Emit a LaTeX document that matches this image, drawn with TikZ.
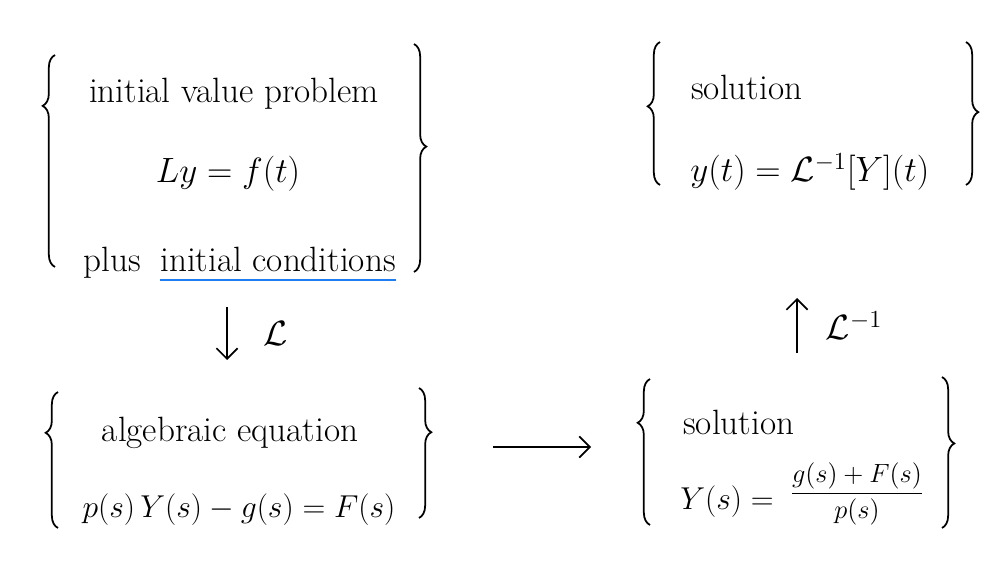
\documentclass[tikz,border=0pt]{standalone}
\usepackage{fix-cm}
\usepackage{amsmath,amssymb}
\usepackage{fontspec}
\usetikzlibrary{positioning,calc,arrows.meta,decorations.pathreplacing}
\definecolor{ulblue}{RGB}{30,125,240}
\tikzset{hand/.style={font=\fontsize{20}{24}\selectfont,inner sep=0pt}  }
\tikzset{handmid/.style={font=\fontsize{18}{22}\selectfont,inner sep=0pt}  }
\tikzset{handsmall/.style={font=\fontsize{15}{18}\selectfont,inner sep=0pt}  }
\tikzset{brc/.style={decorate,decoration={brace,amplitude=7pt,aspect=#1},line width=1pt}  }
\tikzset{>={Straight Barb[length=6pt,width=12pt]}}

\begin{document}
\begin{tikzpicture}[x=0.02cm,y=-0.02cm]
	\useasboundingbox (0,0) rectangle (988,564);
	% initial value problem
		\node[hand,anchor=base] (ivp) at (234,103) {initial value problem};
		\node[hand,anchor=base] (ode) at (228,183) {$Ly = f(t)$};
		\node[hand,anchor=base west] (plus) at (83,272) {plus};
		\node[hand,anchor=base west] (ic) at (160,272) {initial conditions};
	\draw[ulblue,line width=1pt] ($(ic.base west)+(0,8)$) -- ($(ic.base east)+(0,8)$);
		\coordinate (tl1) at (55,267);
		\coordinate (tl2) at (55,55);
		\coordinate (tr1) at (414,44);
		\coordinate (tr2) at (414,272);
	\draw[brc=0.76] (tl1)--(tl2);
	\draw[brc=0.45] (tr1)--(tr2);
	% Laplace transform
		\coordinate (d1) at (227,307);
		\coordinate (d2) at (227,360);
	\draw[->,line width=1pt] (d1) -- node[hand,right=20pt]{$\mathcal{L}$}(d2);
	% algebraic equation
		\node[hand,anchor=base] (alg) at (230,441) {algebraic equation};
		\node[handmid,anchor=base] (aeq) at (239,518) {$p(s)\,Y(s) - g(s) = F(s)$};
		\coordinate (bl1) at (58,528);
		\coordinate (bl2) at (58,392);
		\coordinate (br1) at (419,388);
		\coordinate (br2) at (419,518);
	\draw[brc=0.70] (bl1)--(bl2);
	\draw[brc=0.34] (br1)--(br2);
	\coordinate (h1) at (493,447);
	\coordinate (h2) at (591,447);
	\draw[->,line width=1pt] (h1)--(h2);
	% solution in s
		\node[hand,anchor=base west] (sol2) at (683,435) {solution};
		\node[handmid,anchor=base west] (Ys) at (680,509) {$Y(s) =$};
		\node[handsmall] (frac) at (857,494) {$\dfrac{g(s)+F(s)}{p(s)}$};
		\coordinate (sl1) at (650,525);
		\coordinate (sl2) at (650,379);
		\coordinate (sr1) at (942,377);
		\coordinate (sr2) at (942,528);
	\draw[brc=0.70] (sl1)--(sl2);
	\draw[brc=0.44] (sr1)--(sr2);
	% inverse transform
		\coordinate (u1) at (797,353);
		\coordinate (u2) at (797,298);
	\draw[->,line width=1pt] (u1) -- node[hand,right=16pt]{$\mathcal{L}^{-1}$}(u2);
	% solution in t
		\node[hand,anchor=base west] (sol1) at (691,100) {solution};
		\node[hand,anchor=base west] (yt) at (690,182) {$y(t) = \mathcal{L}^{-1}[Y](t)$};
		\coordinate (ql1) at (660,185);
		\coordinate (ql2) at (660,42);
		\coordinate (qr1) at (966,42);
		\coordinate (qr2) at (966,185);
	\draw[brc=0.55] (ql1)--(ql2);
	\draw[brc=0.49] (qr1)--(qr2);
\end{tikzpicture}
\end{document}
